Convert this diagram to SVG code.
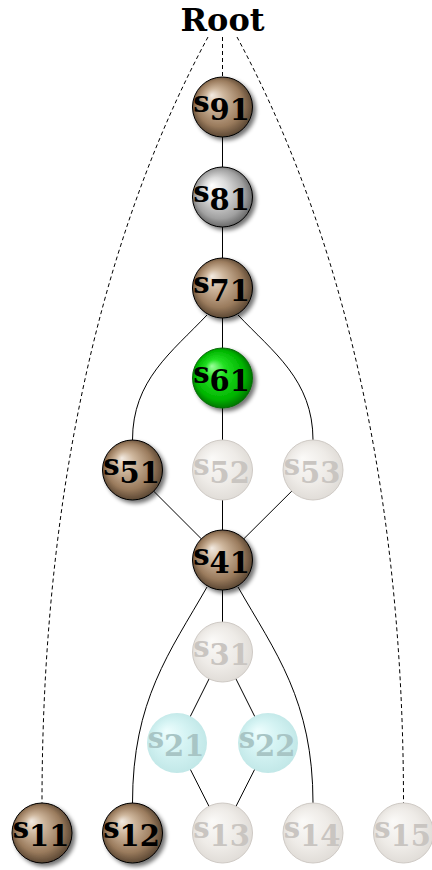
<svg xmlns="http://www.w3.org/2000/svg" width="432" height="870" viewBox="0 0 432 870">
  <defs>
    <!-- ball shadings -->
    <radialGradient id="gBrown" cx="50%" cy="50%" r="55%" fx="32%" fy="30%">
      <stop offset="0" stop-color="#f3ebe2"/>
      <stop offset="0.3" stop-color="#cdb59b"/>
      <stop offset="0.7" stop-color="#9a7b5d"/>
      <stop offset="1" stop-color="#4a3928"/>
    </radialGradient>
    <radialGradient id="gSilver" cx="50%" cy="50%" r="55%" fx="32%" fy="30%">
      <stop offset="0" stop-color="#ffffff"/>
      <stop offset="0.35" stop-color="#dcdcdc"/>
      <stop offset="0.75" stop-color="#a0a0a0"/>
      <stop offset="1" stop-color="#555555"/>
    </radialGradient>
    <radialGradient id="gGreen" cx="50%" cy="50%" r="55%" fx="32%" fy="30%">
      <stop offset="0" stop-color="#9dff9d"/>
      <stop offset="0.3" stop-color="#22e022"/>
      <stop offset="0.75" stop-color="#00b400"/>
      <stop offset="1" stop-color="#006000"/>
    </radialGradient>
    <radialGradient id="gFaded" cx="50%" cy="50%" r="55%" fx="32%" fy="30%">
      <stop offset="0" stop-color="#fbfaf8"/>
      <stop offset="0.6" stop-color="#eeebe7"/>
      <stop offset="1" stop-color="#dedad5"/>
    </radialGradient>
    <radialGradient id="gCyan" cx="50%" cy="50%" r="55%" fx="32%" fy="30%">
      <stop offset="0" stop-color="#eefefe"/>
      <stop offset="0.5" stop-color="#d4f3f3"/>
      <stop offset="1" stop-color="#bfe6e6"/>
    </radialGradient>
    <filter id="shadow" x="-30%" y="-30%" width="170%" height="170%">
      <feGaussianBlur in="SourceAlpha" stdDeviation="2"/>
      <feOffset dx="3" dy="3" result="b"/>
      <feComponentTransfer><feFuncA type="linear" slope="0.55"/></feComponentTransfer>
      <feMerge><feMergeNode/><feMergeNode in="SourceGraphic"/></feMerge>
    </filter>
  </defs>
  <style>
    .edge { fill: none; stroke: #000; stroke-width: 1; }
    .dash { fill: none; stroke: #000; stroke-width: 1; stroke-dasharray: 4 3; }
    .ball { stroke: #000; stroke-width: 1; filter: url(#shadow); }
    .brown { fill: url(#gBrown); }
    .silver { fill: url(#gSilver); }
    .green { fill: url(#gGreen); stroke: #0a6a0a; }
    .faded { fill: url(#gFaded); stroke: #cfcac5; stroke-width: 1; }
    .cyan { fill: url(#gCyan); }
    .lbl { font-family: "DejaVu Serif", "Liberation Serif", serif; font-weight: bold; font-size: 29px; text-anchor: middle; fill: #000; }
    .lbl.dim { fill: #c9c5c1; }
    .lbl.cy { fill: #a8c5c5; }
    .root { font-family: "DejaVu Serif", "Liberation Serif", serif; font-weight: bold; font-size: 32px; text-anchor: middle; fill: #000; }
  </style>

  <text class="root" x="222.5" y="31">Root</text>

  <g id="connectors">
    <!-- dashed links from the root -->
    <path class="dash" d="M222.5,37 L222.5,77"/>
    <path class="dash" d="M208,37 C120,200 42,450 42,803"/>
    <path class="dash" d="M237,37 C325,200 403.5,450 403.5,803"/>
    <!-- solid tree links -->
    <path class="edge" d="M222.5,107 L222.5,288"/>
    <path class="edge" d="M222.5,288 L222.5,560"/>
    <path class="edge" d="M207,315 C172,352 132.5,380 132.5,440"/>
    <path class="edge" d="M238,315 C273,352 313,380 313,440"/>
    <path class="edge" d="M132.5,470 L222.5,560 L313,470"/>
    <path class="edge" d="M222.5,560 L222.5,652"/>
    <path class="edge" d="M207,587 C170,652 132.5,700 132.5,803"/>
    <path class="edge" d="M238,587 C275,652 313,700 313,803"/>
    <path class="edge" d="M222.5,652 L177,743 L222.5,833 L268,743 Z"/>
  </g>

  <g id="s91"><circle class="ball brown" cx="222.5" cy="107" r="30"/><text class="lbl" x="221.5" y="112">s<tspan dy="8">91</tspan></text></g>
  <g id="s81"><circle class="ball silver" cx="222.5" cy="197" r="30"/><text class="lbl" x="221.5" y="202">s<tspan dy="8">81</tspan></text></g>
  <g id="s71"><circle class="ball brown" cx="222.5" cy="288" r="30"/><text class="lbl" x="221.5" y="293">s<tspan dy="8">71</tspan></text></g>
  <g id="s61"><circle class="ball green" cx="222.5" cy="378" r="30"/><text class="lbl" x="221.5" y="383">s<tspan dy="8">61</tspan></text></g>
  <g id="s51"><circle class="ball brown" cx="132.5" cy="470" r="30"/><text class="lbl" x="131.5" y="475">s<tspan dy="8">51</tspan></text></g>
  <g id="s52"><circle class="faded" cx="222.5" cy="470" r="30"/><text class="lbl dim" x="221.5" y="475">s<tspan dy="8">52</tspan></text></g>
  <g id="s53"><circle class="faded" cx="313" cy="470" r="30"/><text class="lbl dim" x="312" y="475">s<tspan dy="8">53</tspan></text></g>
  <g id="s41"><circle class="ball brown" cx="222.5" cy="560" r="30"/><text class="lbl" x="221.5" y="565">s<tspan dy="8">41</tspan></text></g>
  <g id="s31"><circle class="faded" cx="222.5" cy="652" r="30"/><text class="lbl dim" x="221.5" y="657">s<tspan dy="8">31</tspan></text></g>
  <g id="s21"><circle class="cyan" cx="177" cy="743" r="30"/><text class="lbl cy" x="176" y="748">s<tspan dy="8">21</tspan></text></g>
  <g id="s22"><circle class="cyan" cx="268" cy="743" r="30"/><text class="lbl cy" x="267" y="748">s<tspan dy="8">22</tspan></text></g>
  <g id="s11"><circle class="ball brown" cx="42" cy="833" r="30"/><text class="lbl" x="41" y="838">s<tspan dy="8">11</tspan></text></g>
  <g id="s12"><circle class="ball brown" cx="132.5" cy="833" r="30"/><text class="lbl" x="131.5" y="838">s<tspan dy="8">12</tspan></text></g>
  <g id="s13"><circle class="faded" cx="222.5" cy="833" r="30"/><text class="lbl dim" x="221.5" y="838">s<tspan dy="8">13</tspan></text></g>
  <g id="s14"><circle class="faded" cx="313" cy="833" r="30"/><text class="lbl dim" x="312" y="838">s<tspan dy="8">14</tspan></text></g>
  <g id="s15"><circle class="faded" cx="403.5" cy="833" r="30"/><text class="lbl dim" x="402.5" y="838">s<tspan dy="8">15</tspan></text></g>
</svg>
